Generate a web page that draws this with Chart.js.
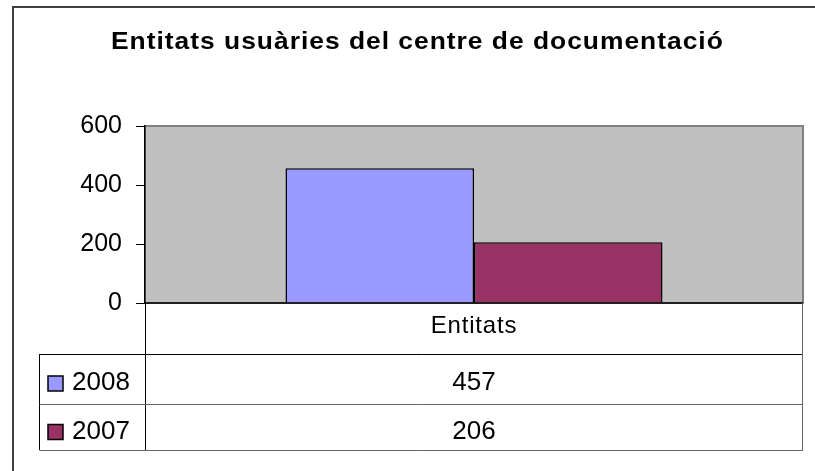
<!DOCTYPE html>
<html>
<head>
<meta charset="utf-8">
<script src="https://cdn.jsdelivr.net/npm/chart.js@4/dist/chart.umd.min.js"></script>
<style>
  html, body { margin: 0; padding: 0; background: #fff; }
  #chart-box { width: 815px; height: 471px; }
</style>
</head>
<body>
<div id="chart-box"><canvas id="usuaries-chart" width="815" height="471"></canvas></div>
<script>
// data
let chartTitle = 'Entitats usuàries del centre de documentació'
let categories = ['Entitats']
let seriesNames = ['2008', '2007']
let values2008 = [457]
let values2007 = [206]
let yTicks = [0, 200, 400, 600]
let seriesColors = ['#9999ff', '#993366']

let canvas = document.querySelector('#usuaries-chart')
let context = canvas.getContext('2d')
let fontName = '"Liberation Sans", Arial, sans-serif'

// gray plot area, data table, title and frame drawn like the excel sheet
let excelLook = {
    id: 'excelLook',
    beforeDraw(chart) {
        let ctx = chart.ctx
        let a = chart.chartArea
        ctx.save()
        ctx.fillStyle = '#fff'
        ctx.fillRect(0, 0, chart.width, chart.height)
        ctx.fillStyle = '#c0c0c0'
        ctx.fillRect(a.left, a.top, a.right - a.left, a.bottom - a.top)
        ctx.strokeStyle = '#808080'
        ctx.lineWidth = 2
        ctx.strokeRect(a.left, a.top, a.right - a.left, a.bottom - a.top)
        ctx.restore()
    },
    afterDraw(chart) {
        let ctx = chart.ctx
        let a = chart.chartArea
        let xs = chart.scales.x
        let cx = xs.getPixelForValue(0)
        let tableLeft = 39.5
        let rowTop = [a.bottom, a.bottom + 50.5, a.bottom + 101]
        let tableBottom = a.bottom + 147

        ctx.save()
        // axis line at zero
        ctx.strokeStyle = '#000'
        ctx.lineWidth = 1.5
        ctx.beginPath()
        ctx.moveTo(a.left, a.bottom)
        ctx.lineTo(a.right, a.bottom)
        ctx.stroke()

        // table lines
        ctx.lineWidth = 1
        ctx.strokeStyle = '#000'
        ctx.beginPath()
        ctx.moveTo(tableLeft, Math.round(rowTop[1]) + 0.5)
        ctx.lineTo(a.right, Math.round(rowTop[1]) + 0.5)
        ctx.moveTo(tableLeft, Math.round(rowTop[1]))
        ctx.lineTo(tableLeft, tableBottom)
        ctx.moveTo(Math.round(a.left) + 0.5, a.bottom)
        ctx.lineTo(Math.round(a.left) + 0.5, tableBottom)
        ctx.stroke()
        ctx.strokeStyle = '#666'
        ctx.beginPath()
        ctx.moveTo(tableLeft, Math.round(rowTop[2]) + 0.5)
        ctx.lineTo(a.right, Math.round(rowTop[2]) + 0.5)
        ctx.moveTo(tableLeft, Math.round(tableBottom) + 0.5)
        ctx.lineTo(a.right, Math.round(tableBottom) + 0.5)
        ctx.moveTo(Math.round(a.right) - 0.5, a.bottom)
        ctx.lineTo(Math.round(a.right) - 0.5, tableBottom)
        ctx.stroke()

        // header cell
        ctx.fillStyle = '#000'
        ctx.textAlign = 'center'
        ctx.textBaseline = 'alphabetic'
        ctx.font = '24px ' + fontName
        ctx.letterSpacing = '0.8px'
        ctx.fillText(categories[0], cx, a.bottom + 30)
        ctx.letterSpacing = '0px'

        // series rows
        let rowValues = [values2008, values2007]
        let baselines = [a.bottom + 86.5, a.bottom + 135.5]
        let markTops = [a.bottom + 73, a.bottom + 121.5]
        ctx.font = '26px ' + fontName
        seriesNames.forEach(function(name, i) {
            ctx.fillStyle = seriesColors[i]
            ctx.fillRect(48, markTops[i], 15, 15)
            ctx.strokeStyle = '#000'
            ctx.lineWidth = 1.5
            ctx.strokeRect(48, markTops[i], 15, 15)
            ctx.fillStyle = '#000'
            ctx.textAlign = 'left'
            ctx.fillText(name, 72, baselines[i])
            ctx.textAlign = 'center'
            ctx.fillText(String(rowValues[i][0]), cx, baselines[i])
        })

        // title, a bit stretched sideways like the original
        ctx.save()
        ctx.font = 'bold 24px ' + fontName
        ctx.textAlign = 'left'
        ctx.translate(111, 49)
        ctx.scale(1.1, 1)
        ctx.letterSpacing = '0.9px'
        ctx.fillText(chartTitle, 0, 0)
        ctx.restore()

        // outer frame
        ctx.strokeStyle = '#404040'
        ctx.lineWidth = 2
        ctx.beginPath()
        ctx.moveTo(13, chart.height)
        ctx.lineTo(13, 7)
        ctx.lineTo(chart.width, 7)
        ctx.stroke()
        ctx.restore()
    }
}

// create chart
let chart = new Chart(context, {
    type: 'bar',
    data: {
        labels: categories,
        datasets: [
            { label: seriesNames[0], data: values2008, backgroundColor: seriesColors[0], borderColor: '#000', borderWidth: 1.5 },
            { label: seriesNames[1], data: values2007, backgroundColor: seriesColors[1], borderColor: '#000', borderWidth: 1.5 }
        ]
    },
    options: {
        responsive: false,
        animation: false,
        layout: { padding: { top: 126, bottom: 168, left: 0, right: 12 } },
        datasets: { bar: { categoryPercentage: 0.573, barPercentage: 1 } },
        plugins: {
            legend: { display: false },
            title: { display: false },
            tooltip: { enabled: false }
        },
        scales: {
            x: { display: false },
            y: {
                min: yTicks[0],
                max: yTicks[yTicks.length - 1],
                afterFit: function(scale) { scale.width = 145 },
                afterBuildTicks: function(scale) {
                    scale.ticks = yTicks.map(function(v) { return { value: v } })
                },
                grid: { drawOnChartArea: false, drawTicks: true, tickLength: 9, color: '#000' },
                border: { display: true, color: '#000', width: 1.5 },
                ticks: {
                    padding: 14,
                    color: '#000',
                    font: { family: fontName, size: 25 }
                }
            }
        }
    },
    plugins: [excelLook]
})
</script>
</body>
</html>
